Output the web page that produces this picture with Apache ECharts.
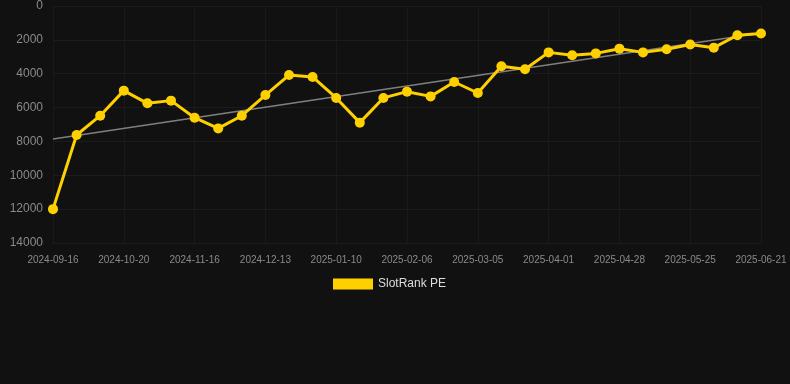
<!DOCTYPE html>
<html>
<head>
<meta charset="utf-8">
<script src="https://cdn.jsdelivr.net/npm/echarts@6/dist/echarts.min.js"></script>
<style>
html,body{margin:0;padding:0;background:#111111;}
#chart{width:790px;height:384px;}
</style>
</head>
<body>
<div id="chart"></div>
<script>
var categories = [
  "2024-09-16","2024-09-27","2024-10-09","2024-10-20","2024-10-29","2024-11-07",
  "2024-11-16","2024-11-25","2024-12-04","2024-12-13","2024-12-22","2025-01-01",
  "2025-01-10","2025-01-19","2025-01-28","2025-02-06","2025-02-15","2025-02-24",
  "2025-03-05","2025-03-14","2025-03-23","2025-04-01","2025-04-10","2025-04-19",
  "2025-04-28","2025-05-07","2025-05-16","2025-05-25","2025-06-03","2025-06-12",
  "2025-06-21"
];
var slotRankPE = [
  12000, 7620, 6480, 5000, 5750, 5590,
  6600, 7230, 6480, 5260, 4080, 4190,
  5430, 6890, 5430, 5060, 5340, 4490,
  5140, 3560, 3740, 2740, 2910, 2800,
  2520, 2740, 2560, 2270, 2460, 1730,
  1620
];
var trendEnds = [7860, 1600];
var yTicks = [0, 2000, 4000, 6000, 8000, 10000, 12000, 14000];

var trendData = categories.map(function (c, i) {
  if (i === 0) return trendEnds[0];
  if (i === categories.length - 1) return trendEnds[1];
  return null;
});

var chart = echarts.init(document.getElementById('chart'));
chart.setOption({
  backgroundColor: '#111111',
  animation: false,
  grid: { left: 53, right: 29, top: 6, bottom: 141 },
  legend: {
    data: ['SlotRank PE'],
    top: 273,
    left: 328,
    itemWidth: 40,
    itemHeight: 11,
    itemGap: 6,
    icon: 'rect',
    textStyle: { color: '#dddddd', fontSize: 12, fontFamily: 'Liberation Sans, Arial, sans-serif' }
  },
  xAxis: {
    type: 'category',
    data: categories,
    boundaryGap: false,
    axisLine: { show: false },
    axisTick: { show: false },
    axisLabel: {
      interval: 2,
      color: '#8a8a8a',
      fontSize: 10,
      margin: 12,
      fontFamily: 'Liberation Sans, Arial, sans-serif'
    },
    splitLine: { show: true, interval: 2, lineStyle: { color: '#1a1a1a', width: 1 } }
  },
  yAxis: {
    type: 'value',
    inverse: true,
    min: yTicks[0],
    max: yTicks[yTicks.length - 1],
    interval: 2000,
    axisLine: { show: false },
    axisTick: { show: false },
    axisLabel: {
      color: '#8a8a8a',
      fontSize: 12,
      margin: 10,
      fontFamily: 'Liberation Sans, Arial, sans-serif',
      formatter: function (v) { return String(v); }
    },
    splitLine: { show: true, lineStyle: { color: '#1c1c1c', width: 1 } }
  },
  series: [
    {
      name: 'Trend',
      type: 'line',
      data: trendData,
      connectNulls: true,
      symbol: 'none',
      silent: true,
      z: 1,
      lineStyle: { color: 'rgba(140,140,140,0.9)', width: 1.5 }
    },
    {
      name: 'SlotRank PE',
      type: 'line',
      data: slotRankPE,
      symbol: 'circle',
      symbolSize: 10,
      z: 3,
      itemStyle: { color: '#ffd000' },
      lineStyle: { color: '#ffd000', width: 3 }
    }
  ]
});
</script>
</body>
</html>
